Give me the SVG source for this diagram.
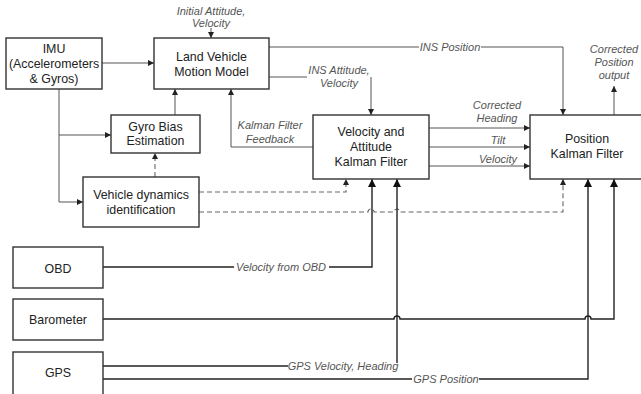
<svg xmlns="http://www.w3.org/2000/svg" width="641" height="394" viewBox="0 0 641 394">
<defs>
<marker id="a" markerUnits="userSpaceOnUse" markerWidth="8" markerHeight="8" refX="6" refY="3" orient="auto"><path d="M0,0 L6,3 L0,6 z" fill="#222"/></marker>
<marker id="b" markerUnits="userSpaceOnUse" markerWidth="10" markerHeight="10" refX="8" refY="4" orient="auto"><path d="M0,0 L8,4 L0,8 z" fill="#111"/></marker>
</defs>
<style>
.box{fill:#fff;stroke:#333;stroke-width:1.4}
.t{font-family:"Liberation Sans",Arial,sans-serif;font-size:12.4px;fill:#222;text-anchor:middle}
.l{font-family:"Liberation Sans",Arial,sans-serif;font-style:italic;font-size:11px;fill:#555;text-anchor:middle}
.c{fill:none;stroke:#555;stroke-width:1;marker-end:url(#a)}
.n{fill:none;stroke:#555;stroke-width:1}
.d{fill:none;stroke:#666;stroke-width:1.1;stroke-dasharray:5,3;marker-end:url(#a)}
.k{fill:none;stroke:#222;stroke-width:1.4;marker-end:url(#b)}
.kn{fill:none;stroke:#222;stroke-width:1.4}
</style>
<g id="connectors">
<path class="c" d="M102,63 H154"/>
<path class="c" d="M59,89 V202 H83"/>
<path class="c" d="M59,135 H111"/>
<path class="c" d="M175,115 V89"/>
<path class="d" d="M155,177 V153"/>
<path class="c" d="M211,28 V38"/>
<path class="n" d="M269,47 H419"/>
<path class="c" d="M481,47 H563 V115"/>
<path class="n" d="M269,77 H307"/>
<path class="c" d="M371,77 V115"/>
<path class="c" d="M313,147 H231 V89"/>
<path class="c" d="M429,128 H530"/>
<path class="c" d="M429,147 H530"/>
<path class="c" d="M429,166 H530"/>
<path class="c" d="M614,115 V86"/>
<path class="d" d="M199,192 H346 V179"/>
<path class="d" d="M199,212 H368 A3,3 0 0 1 374,212 H394 A3,3 0 0 1 400,212 H563 V179"/>
<path class="kn" d="M103,267 H234"/>
<path class="k" d="M329,267 H372 V179"/>
<path class="k" d="M103,319 H394 A3,3 0 0 1 400,319 H585 A3,3 0 0 1 591,319 H614 V179"/>
<path class="kn" d="M103,366 H288"/>
<path class="k" d="M397,363 V179"/>
<path class="kn" d="M103,379 H412"/>
<path class="k" d="M479,379 H588 V179"/>
</g>
<g id="imu"><rect class="box" x="6" y="38" width="96" height="51"/><text class="t" x="54" y="53">IMU</text><text class="t" x="54" y="68">(Accelerometers</text><text class="t" x="54" y="83">&amp; Gyros)</text></g>
<g id="lvmm"><rect class="box" x="154" y="38" width="115" height="51"/><text class="t" x="211.5" y="60.5">Land Vehicle</text><text class="t" x="211.5" y="75.5">Motion Model</text></g>
<g id="gyro"><rect class="box" x="111" y="115" width="89" height="38"/><text class="t" x="155.5" y="130.5">Gyro Bias</text><text class="t" x="155.5" y="144.5">Estimation</text></g>
<g id="vdi"><rect class="box" x="83" y="177" width="116" height="50"/><text class="t" x="141" y="198.5">Vehicle dynamics</text><text class="t" x="141" y="213.5">identification</text></g>
<g id="vakf"><rect class="box" x="313" y="115" width="116" height="64"/><text class="t" x="371" y="135.5">Velocity and</text><text class="t" x="371" y="150.5">Attitude</text><text class="t" x="371" y="166">Kalman Filter</text></g>
<g id="pkf"><rect class="box" x="530" y="115" width="116" height="64"/><text class="t" x="587" y="142.5">Position</text><text class="t" x="587" y="158">Kalman Filter</text></g>
<g id="obd"><rect class="box" x="13" y="247" width="90" height="41"/><text class="t" x="58" y="272.5">OBD</text></g>
<g id="baro"><rect class="box" x="13" y="299" width="90" height="41"/><text class="t" x="58" y="323.5">Barometer</text></g>
<g id="gps"><rect class="box" x="13" y="352" width="90" height="50"/><text class="t" x="58" y="376.5">GPS</text></g>
<g id="labels">
<text class="l" x="211" y="15">Initial Attitude,</text><text class="l" x="211" y="27">Velocity</text>
<text class="l" x="450" y="51">INS Position</text>
<text class="l" x="339" y="74">INS Attitude,</text><text class="l" x="339" y="87">Velocity</text>
<text class="l" x="270" y="129">Kalman Filter</text><text class="l" x="270" y="143">Feedback</text>
<text class="l" x="497" y="109">Corrected</text><text class="l" x="497" y="122">Heading</text>
<text class="l" x="498" y="144">Tilt</text>
<text class="l" x="498" y="163">Velocity</text>
<text class="l" x="614" y="53">Corrected</text><text class="l" x="614" y="66">Position</text><text class="l" x="614" y="79">output</text>
<text class="l" x="281" y="271">Velocity from OBD</text>
<text class="l" x="343" y="370">GPS Velocity, Heading</text>
<text class="l" x="446" y="383">GPS Position</text>
</g>
</svg>
